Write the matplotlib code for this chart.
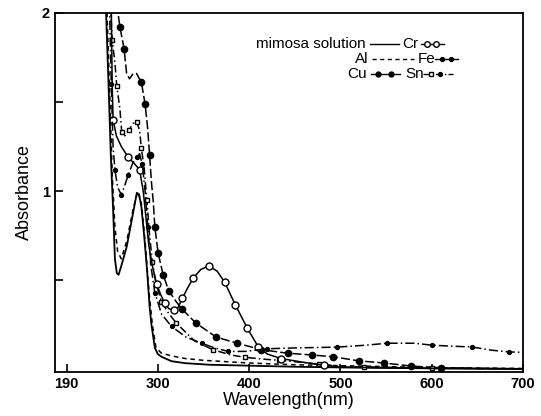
import numpy as np
from matplotlib import pyplot as plt
from matplotlib.lines import Line2D

plt.rcParams['font.family'] = ['Liberation Sans', 'DejaVu Sans']

# wavelength (nm) / absorbance
mimosa_x = [243, 246, 248.5, 251, 253, 255, 257, 260, 266, 273, 277, 279.5, 282, 285, 288, 291, 293,
            296.7, 300, 304, 315, 330, 357, 400, 450, 500, 600, 700]
mimosa_y = [2.05, 1.6, 1.2, 0.9, 0.62, 0.54, 0.53, 0.58, 0.69, 0.88, 0.99, 0.98, 0.91, 0.75, 0.57, 0.35, 0.25,
            0.12, 0.085, 0.07, 0.045, 0.034, 0.025, 0.02, 0.014, 0.01, 0.005, 0.002]

al_x = [244, 247, 250, 253, 256, 260, 266, 273, 278, 282, 286, 290, 294, 298, 304, 315, 330, 350, 400,
        450, 500, 550, 600, 650, 700]
al_y = [2.05, 1.6, 1.1, 0.8, 0.66, 0.62, 0.72, 0.9, 1.0, 0.93, 0.72, 0.45, 0.25, 0.12, 0.09, 0.075, 0.06,
        0.05, 0.035, 0.025, 0.02, 0.015, 0.01, 0.006, 0.004]

cu_x = [255, 258.5, 263, 265.8, 269, 273, 276.7, 282, 286, 288.7, 291, 293, 295, 296.7, 300.4, 305.8, 312,
        320, 326, 341.5, 364, 387, 413, 442, 469, 492, 520, 548, 577, 610, 650, 700]
cu_y = [2.05, 1.92, 1.80, 1.66, 1.63, 1.66, 1.66, 1.61, 1.49, 1.36, 1.20, 1.05, 0.94, 0.80, 0.65, 0.53, 0.44,
        0.38, 0.34, 0.26, 0.18, 0.146, 0.11, 0.09, 0.08, 0.07, 0.047, 0.035, 0.018, 0.008, 0.004, 0.002]

sn_x = [248, 250, 253, 255, 258.5, 260.5, 264, 268, 273, 277, 280, 282, 285, 288, 291, 294, 298, 304, 311,
        320, 340, 360, 380, 395, 417, 433, 455, 477, 505, 526, 560, 600, 700]
sn_y = [2.05, 1.85, 1.72, 1.59, 1.46, 1.33, 1.31, 1.34, 1.38, 1.39, 1.34, 1.24, 1.13, 0.95, 0.75, 0.6, 0.48,
        0.38, 0.32, 0.26, 0.16, 0.11, 0.08, 0.067, 0.056, 0.05, 0.04, 0.028, 0.015, 0.013, 0.01, 0.006, 0.003]

cr_x = [249, 250, 251, 254.6, 260, 267.5, 275, 280, 284, 287, 290, 294, 298.6, 303, 307.6, 312, 318, 322,
        327, 333, 338.6, 347, 356, 365, 373, 385, 398, 410, 420, 435, 458, 482, 502, 550, 600, 700]
cr_y = [2.05, 1.6, 1.40, 1.31, 1.25, 1.19, 1.15, 1.12, 1.0, 0.85, 0.7, 0.58, 0.48, 0.42, 0.37, 0.34, 0.33,
        0.345, 0.40, 0.46, 0.51, 0.56, 0.58, 0.55, 0.49, 0.36, 0.23, 0.125, 0.085, 0.06, 0.04, 0.022, 0.012,
        0.008, 0.005, 0.002]

fe_x = [247, 249, 251, 253, 256, 260, 263, 267.5, 272, 276.7, 280, 283, 286, 289, 293, 296.7, 304, 315, 331,
        348, 362, 377, 396, 420, 453, 496, 528, 551, 581, 600, 619, 644, 665, 685, 700]
fe_y = [2.05, 1.6, 1.25, 1.12, 1.02, 0.98, 1.02, 1.09, 1.15, 1.19, 1.21, 1.15, 1.0, 0.8, 0.56, 0.43, 0.31,
        0.24, 0.18, 0.146, 0.12, 0.10, 0.10, 0.115, 0.12, 0.124, 0.135, 0.146, 0.146, 0.135, 0.13, 0.125,
        0.107, 0.097, 0.095]

xtick_pos = [200, 300, 400, 500, 600, 700]
xtick_labels = ['190', '300', '400', '500', '600', '700']

fig = plt.figure(figsize=(5.41, 4.16), dpi=100)
ax = fig.add_axes([0.101, 0.106, 0.866, 0.863])

lw = 1.1
ax.plot(mimosa_x, mimosa_y, color='black', lw=1.3)
ax.plot(al_x, al_y, color='black', lw=lw, dashes=(3, 2.5))
ax.plot(cu_x, cu_y, color='black', lw=lw, dashes=(6, 2), marker='o', ms=4.5,
        markevery=[1, 2, 7, 8, 10, 13, 14, 15, 16, 18, 19, 20, 21, 22, 23, 24, 25, 26, 27, 28, 29])
ax.plot(sn_x, sn_y, color='black', lw=lw, dashes=(5, 2, 1, 2), marker='s', ms=3.2,
        mfc='white', markevery=slice(1, None, 2))
ax.plot(cr_x, cr_y, color='black', lw=lw, marker='o', ms=5, mfc='white',
        markevery=[2, 5, 7, 12, 14, 16, 18, 20, 22, 24, 25, 26, 27, 29, 31])
ax.plot(fe_x, fe_y, color='black', lw=lw, dashes=(6, 2, 1, 2), marker='o', ms=2.8,
        markevery=slice(1, None, 2))

ax.set_xlim(187, 700)
ax.set_ylim(-0.015, 2.0)
ax.set_xticks(xtick_pos)
ax.set_xticklabels(xtick_labels, fontweight='bold', fontsize=10.5)
ax.set_yticks([0.5, 1, 1.5, 2])
ax.set_yticklabels(['', '1', '', '2'], fontweight='bold', fontsize=10.5)
ax.tick_params(direction='in', length=6, width=1.2)
for s in ax.spines.values():
    s.set_linewidth(1.3)

ax.set_xlabel('Wavelength(nm)', fontsize=13, labelpad=1)
ax.set_ylabel('Absorbance', fontsize=13, labelpad=6)

# legend laid out like the original, in axes fraction
def sample(x0, x1, y, **kw):
    ax.add_line(Line2D([x0, x1], [y, y], transform=ax.transAxes, color='black', lw=1.0,
                       clip_on=False, **kw))

def dots(xs, y, **kw):
    ax.plot(xs, [y] * len(xs), color='black', ls='none', transform=ax.transAxes, **kw)

r1, r2, r3 = 0.914, 0.872, 0.830
fs = 11
ax.text(0.663, r1, 'mimosa solution', transform=ax.transAxes, ha='right', va='center', fontsize=fs)
sample(0.674, 0.734, r1)
ax.text(0.742, r1, 'Cr', transform=ax.transAxes, ha='left', va='center', fontsize=fs)
sample(0.782, 0.83, r1)
dots([0.795, 0.814], r1, marker='o', ms=4, mfc='white')
ax.text(0.669, r2, 'Al', transform=ax.transAxes, ha='right', va='center', fontsize=fs)
sample(0.678, 0.768, r2, dashes=(3, 2.5))
ax.text(0.774, r2, 'Fe', transform=ax.transAxes, ha='left', va='center', fontsize=fs)
sample(0.812, 0.86, r2)
dots([0.826, 0.845], r2, marker='o', ms=2.8)
ax.text(0.667, r3, 'Cu', transform=ax.transAxes, ha='right', va='center', fontsize=fs)
sample(0.675, 0.737, r3)
dots([0.69, 0.717], r3, marker='o', ms=3.5)
ax.text(0.748, r3, 'Sn', transform=ax.transAxes, ha='left', va='center', fontsize=fs)
sample(0.786, 0.85, r3, dashes=(5, 1.5, 1, 1.5))
dots([0.803], r3, marker='s', ms=3, mfc='white')
dots([0.823], r3, marker='o', ms=2.8)

fig.savefig('out.png', dpi=100)
